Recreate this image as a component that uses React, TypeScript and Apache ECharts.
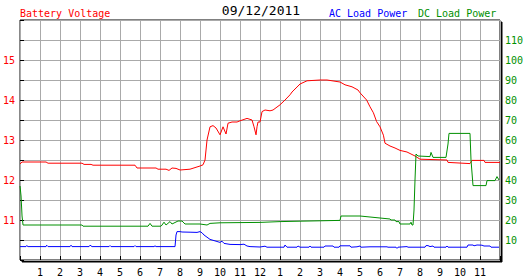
import React, { useEffect, useRef } from "react";
import * as echarts from "echarts";

const titleText = "09/12/2011";
const batteryName = "Battery Voltage";
const acName = "AC Load Power";
const dcName = "DC Load Power";

// [hour, volts]
const batteryVoltage: [number, number][] = [
  [0, 12.4], [0.1, 12.45], [1.3, 12.45], [1.4, 12.42], [3.1, 12.42], [3.2, 12.39],
  [3.55, 12.39], [3.65, 12.37], [5.75, 12.37], [5.85, 12.3], [6.8, 12.3], [6.9, 12.27],
  [7.3, 12.27], [7.45, 12.24], [7.6, 12.3], [7.8, 12.29], [8.0, 12.25], [8.5, 12.27],
  [9.0, 12.35], [9.15, 12.38], [9.25, 12.5], [9.35, 13.0], [9.5, 13.33], [9.65, 13.36],
  [9.8, 13.3], [10.0, 13.13], [10.15, 13.33], [10.3, 13.15], [10.4, 13.42], [10.6, 13.45],
  [10.85, 13.45], [11.0, 13.48], [11.35, 13.54], [11.6, 13.5], [11.7, 13.33], [11.8, 13.13],
  [11.85, 13.33], [11.9, 13.45], [12.0, 13.45], [12.1, 13.71], [12.25, 13.75], [12.5, 13.73],
  [12.65, 13.75], [13.0, 13.88], [13.25, 14.0], [13.5, 14.13], [13.6, 14.2], [14.0, 14.4],
  [14.35, 14.48], [15.0, 14.5], [15.35, 14.5], [16.0, 14.45], [16.25, 14.38], [16.6, 14.33],
  [16.9, 14.25], [17.0, 14.18], [17.33, 14.0], [17.5, 13.83], [17.67, 13.68], [17.83, 13.46],
  [18.0, 13.33], [18.17, 13.12], [18.25, 12.92], [18.5, 12.85], [18.75, 12.8], [19.0, 12.74],
  [19.35, 12.7], [19.75, 12.6], [20.0, 12.52], [21.35, 12.5], [21.4, 12.44], [22.5, 12.41],
  [22.6, 12.49], [23.2, 12.49], [23.25, 12.44], [24.0, 12.44],
];

// [hour, power]
const acLoadPower: [number, number][] = [
  [0, 6.7], [0.3, 6.7], [0.33, 7.2], [0.4, 6.7], [1.3, 6.7], [1.33, 7.4], [1.4, 6.7],
  [2.5, 6.7], [2.55, 7.4], [2.6, 6.7], [3.45, 6.7], [3.5, 7.4], [3.6, 6.7], [4.45, 6.7],
  [4.5, 7.2], [4.55, 6.7], [5.7, 6.7], [5.75, 7.2], [5.8, 6.7], [6.7, 6.7], [6.75, 7.1],
  [6.8, 6.7], [7.75, 6.7], [7.8, 12.5], [7.85, 14.2], [8.0, 14.2], [8.1, 14.0], [8.5, 13.9],
  [8.85, 13.8], [9.0, 14.2], [9.1, 13.6], [9.2, 12.5], [9.5, 10.3], [9.8, 9.4], [10.0, 8.8],
  [10.1, 9.4], [10.2, 8.3], [10.5, 7.8], [11.0, 7.7], [11.2, 7.9], [11.35, 7.0], [11.5, 6.7],
  [12.0, 6.5], [12.25, 6.9], [12.35, 6.4], [13.2, 6.4], [13.25, 7.5], [13.35, 6.4],
  [13.85, 6.4], [13.9, 7.0], [14.0, 6.4], [14.45, 6.4], [14.5, 7.0], [14.55, 6.4],
  [15.2, 6.4], [15.25, 7.0], [15.65, 7.0], [15.7, 6.4], [15.95, 6.4], [16.0, 7.1],
  [16.5, 7.1], [16.55, 6.4], [16.85, 6.6], [17.0, 7.0], [17.05, 6.4], [17.5, 6.6],
  [18.35, 6.6], [18.4, 6.4], [18.8, 6.4], [18.85, 5.8], [18.9, 6.4], [19.35, 6.7],
  [19.4, 6.4], [20.25, 6.4], [20.3, 7.2], [20.4, 7.2], [20.5, 6.7], [20.65, 7.0],
  [20.7, 6.4], [21.3, 6.4], [21.35, 7.0], [21.4, 6.4], [22.35, 6.4], [22.4, 7.5],
  [22.65, 7.5], [22.7, 7.1], [22.85, 7.5], [23.1, 7.4], [23.2, 7.0], [23.5, 7.0],
  [23.55, 6.4], [23.95, 6.4],
];

const dcLoadPower: [number, number][] = [
  [0, 37], [0.05, 32], [0.1, 22], [0.15, 17.5], [3.1, 17.5], [3.15, 16.9], [6.4, 16.9],
  [6.5, 18.3], [6.6, 16.9], [7.05, 16.9], [7.1, 17.5], [7.2, 18.9], [7.3, 17.5], [7.5, 19.2],
  [7.6, 18.0], [7.9, 19.5], [8.1, 19.5], [8.25, 18.0], [9.0, 18.0], [9.35, 17.5], [9.5, 18.3],
  [10.0, 18.6], [11.0, 18.7], [12.0, 18.8], [13.0, 19.2], [14.0, 19.4], [15.0, 19.6],
  [16.0, 19.8], [16.05, 22.0], [17.0, 22.0], [17.5, 21.5], [18.0, 21.0], [18.5, 20.5],
  [18.55, 20.0], [18.75, 20.0], [18.8, 19.2], [18.95, 19.2], [19.0, 18.0], [19.5, 18.0],
  [19.55, 18.9], [19.6, 17.5], [19.65, 17.5], [19.7, 25], [19.75, 40], [19.8, 53],
  [19.9, 52], [20.5, 51.7], [20.55, 53.8], [20.65, 51.3], [21.3, 51.3], [21.4, 58],
  [21.45, 63.3], [22.5, 63.3], [22.55, 50], [22.65, 37.2], [23.3, 37.2], [23.35, 39.7],
  [23.75, 39.7], [23.85, 41.7], [23.95, 40.0],
];

const hourLabels = ["", "1", "2", "3", "4", "5", "6", "7", "8", "9", "10", "11", "12",
  "1", "2", "3", "4", "5", "6", "7", "8", "9", "10", "11", ""];

const RED = "#ff0000";
const BLUE = "#0000ff";
const GREEN = "#009000";
const FONT = "DejaVu Sans Mono";

export default function App() {
  const ref = useRef<HTMLDivElement>(null);
  useEffect(() => {
    if (!ref.current) return;
    const chart = echarts.init(ref.current, null, { renderer: "svg" });
    chart.setOption({
      animation: false,
      backgroundColor: "#ffffff",
      grid: {
        left: 20, top: 20, right: 27, bottom: 20,
        show: true, backgroundColor: "#ffffff", borderColor: "#000000", borderWidth: 1,
        shadowColor: "#000000", shadowOffsetX: 2, shadowOffsetY: 2, shadowBlur: 0,
      },
      graphic: [
        { type: "text", x: 20, y: 13, style: { text: batteryName, fill: RED, font: `10px '${FONT}'`, textVerticalAlign: "middle" } },
        { type: "text", x: 261, y: 10, style: { text: titleText, fill: "#000", font: `13px '${FONT}'`, textAlign: "center", textVerticalAlign: "middle" } },
        { type: "text", x: 329, y: 13, style: { text: acName, fill: BLUE, font: `10px '${FONT}'`, textVerticalAlign: "middle" } },
        { type: "text", x: 418, y: 13, style: { text: dcName, fill: GREEN, font: `10px '${FONT}'`, textVerticalAlign: "middle" } },
      ],
      xAxis: {
        type: "value", min: 0, max: 24, interval: 1,
        axisLine: { show: false },
        axisTick: { show: true, inside: true, length: 4, lineStyle: { color: "#000" } },
        axisLabel: {
          color: "#000", fontFamily: FONT, fontSize: 10, margin: 7,
          formatter: (v: number) => hourLabels[Math.round(v)] ?? "",
        },
        splitLine: { show: true, lineStyle: { color: "#aaaaaa", width: 1 } },
      },
      yAxis: [
        {
          type: "value", min: 10, max: 16, interval: 0.5, position: "left",
          axisLine: { show: false },
          axisTick: { show: true, inside: true, length: 4, lineStyle: { color: "#000" } },
          axisLabel: {
            color: RED, fontFamily: FONT, fontSize: 10, margin: 5,
            formatter: (v: number) => (Number.isInteger(v) && v > 10 && v < 16 ? String(v) : ""),
          },
          splitLine: { show: true, lineStyle: { color: "#aaaaaa", width: 1 } },
        },
        {
          type: "value", min: 0, max: 120, interval: 10, position: "right",
          axisLine: { show: false },
          axisTick: { show: false },
          axisLabel: {
            color: GREEN, fontFamily: FONT, fontSize: 10, margin: 5,
            formatter: (v: number) => (v > 0 && v < 120 ? String(v) : ""),
          },
          splitLine: { show: false },
        },
      ],
      series: [
        { name: batteryName, type: "line", yAxisIndex: 0, data: batteryVoltage, showSymbol: false, lineStyle: { color: RED, width: 1 }, itemStyle: { color: RED } },
        { name: acName, type: "line", yAxisIndex: 1, data: acLoadPower, showSymbol: false, lineStyle: { color: BLUE, width: 1 }, itemStyle: { color: BLUE } },
        { name: dcName, type: "line", yAxisIndex: 1, data: dcLoadPower, showSymbol: false, lineStyle: { color: GREEN, width: 1 }, itemStyle: { color: GREEN } },
      ],
    });
    return () => chart.dispose();
  }, []);
  return <div ref={ref} style={{ position: "fixed", left: 0, top: 0, width: 527, height: 280 }} />;
}
